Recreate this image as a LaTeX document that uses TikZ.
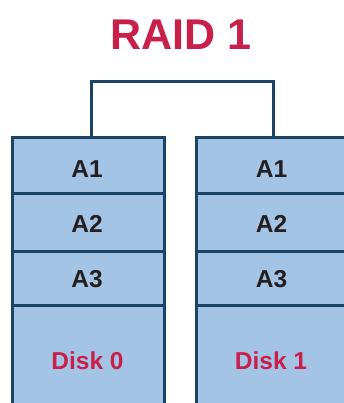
\documentclass[tikz,border=0pt]{standalone}
\usepackage{fontspec}
\setmainfont{Liberation Sans}
\definecolor{cellfill}{HTML}{A4C4E6}
\definecolor{edge}{HTML}{1A4366}
\definecolor{raidred}{HTML}{C8204B}
\definecolor{ink}{HTML}{231F20}
\tikzset{
  cell/.style={rectangle, draw=edge, fill=cellfill, line width=3pt,
    minimum width=152pt, inner sep=0pt, outer sep=0pt},
  blocktxt/.style={font=\bfseries\fontsize{24.5}{26}\selectfont, text=ink, inner sep=0pt},
  disktxt/.style={font=\bfseries\fontsize{24.5}{26}\selectfont, text=raidred, inner sep=0pt},
  wire/.style={draw=edge, line width=3pt}
}
\begin{document}
\begin{tikzpicture}[x=1pt,y=1pt]
\clip (0,0) rectangle (344,403);
\fill[white] (0,0) rectangle (344,403);
% title
\node[font=\bfseries\fontsize{43}{45}\selectfont, text=raidred, inner sep=0pt] (title) at (181,368) {RAID 1};
% disk 0
\node[cell, minimum height=56.5pt, anchor=north] (l1) at (88,265.5) {};
\node[cell, minimum height=58pt, anchor=north] (l2) at (l1.south) {};
\node[cell, minimum height=54pt, anchor=north] (l3) at (l2.south) {};
\node[cell, minimum height=120pt, anchor=north] (l4) at (l3.south) {};
% disk 1
\node[cell, minimum height=56.5pt, anchor=north] (r1) at (272,265.5) {};
\node[cell, minimum height=58pt, anchor=north] (r2) at (r1.south) {};
\node[cell, minimum height=54pt, anchor=north] (r3) at (r2.south) {};
\node[cell, minimum height=120pt, anchor=north] (r4) at (r3.south) {};
% block labels
\node[blocktxt] (la1) at (87,233.5) {A1};
\node[blocktxt] (la2) at (87,179) {A2};
\node[blocktxt] (la3) at (87,124.2) {A3};
\node[disktxt] (ld) at (87.5,42.5) {Disk 0};
\node[blocktxt] (ra1) at (271.5,233.5) {A1};
\node[blocktxt] (ra2) at (271.5,179) {A2};
\node[blocktxt] (ra3) at (271.5,124.2) {A3};
\node[disktxt] (rd) at (271,42.5) {Disk 1};
% mirror link
\draw[wire] ([xshift=3pt]l1.north) -- ++(0,55.5) -| ([xshift=1pt]r1.north);
\end{tikzpicture}
\end{document}
